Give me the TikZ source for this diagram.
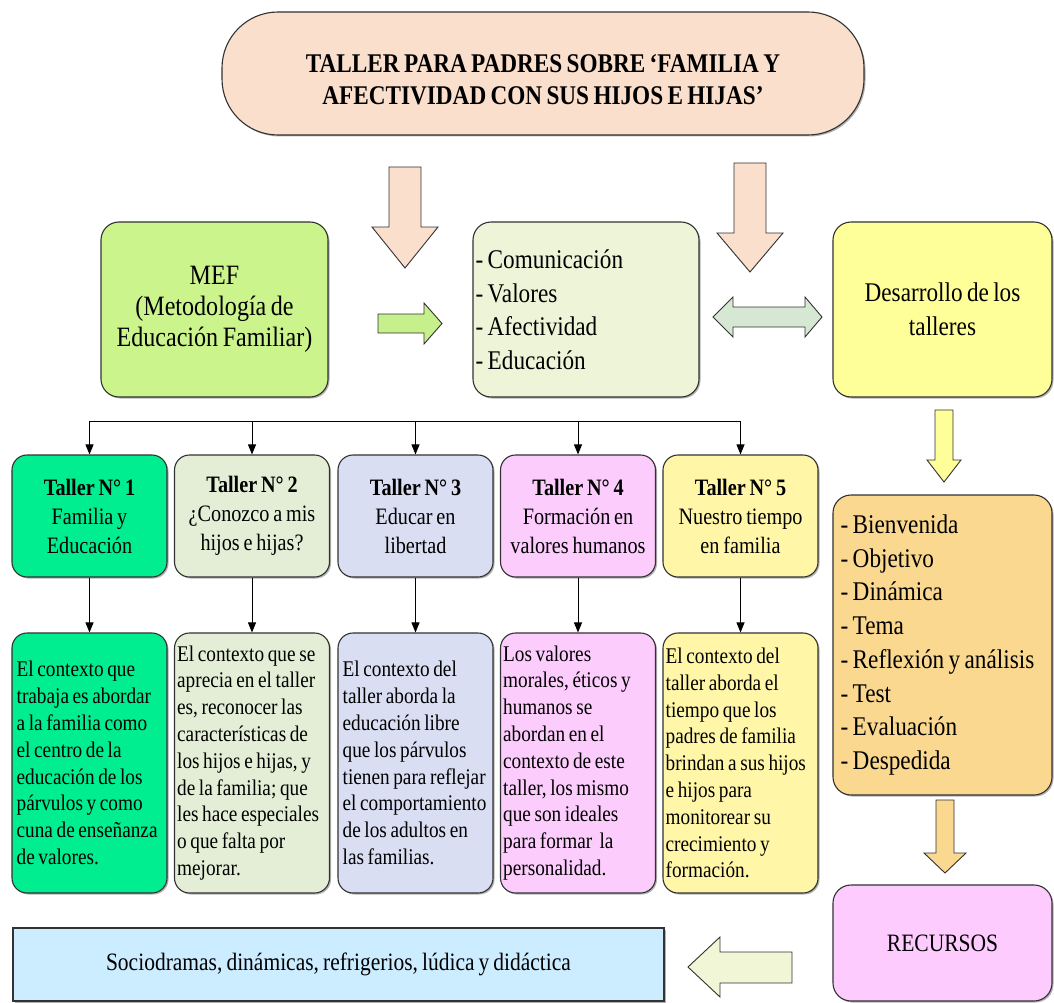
\documentclass[tikz,border=0pt]{standalone}
\usepackage{fontspec}
\setmainfont{Liberation Serif}[FakeStretch=0.86, WordSpace=0.75]
\usetikzlibrary{shadows,arrows.meta}
\definecolor{linec}{RGB}{50,50,50}
\definecolor{ctitle}{RGB}{250,223,205}
\definecolor{cmef}{RGB}{204,244,140}
\definecolor{clist}{RGB}{238,244,215}
\definecolor{cdes}{RGB}{255,255,153}
\definecolor{cta}{RGB}{0,238,144}
\definecolor{ctb}{RGB}{228,238,214}
\definecolor{ctc}{RGB}{218,222,242}
\definecolor{ctd}{RGB}{252,204,252}
\definecolor{cte}{RGB}{255,246,168}
\definecolor{corange}{RGB}{250,216,143}
\definecolor{crec}{RGB}{253,203,253}
\definecolor{csoc}{RGB}{204,236,255}
\definecolor{cleft}{RGB}{240,246,214}
\definecolor{cdbl}{RGB}{214,232,212}
\definecolor{cgreen}{RGB}{198,240,140}
\newcommand\blkdown[7]{% color, cx, top, headstart, tip, shaft half, head half
  \filldraw[blk, fill=#1] ({#2-#6},#3) -- ({#2+#6},#3) -- ({#2+#6},#4) -- ({#2+#7},#4) -- (#2,#5) -- ({#2-#7},#4) -- ({#2-#6},#4) -- cycle;}
\newcommand\blkright[7]{% color, cy, left, headstart, tip, shaft half, head half
  \filldraw[blk, fill=#1] (#3,{#2-#6}) -- (#4,{#2-#6}) -- (#4,{#2-#7}) -- (#5,#2) -- (#4,{#2+#7}) -- (#4,{#2+#6}) -- (#3,{#2+#6}) -- cycle;}
\tikzset{
  blk/.style={draw=linec, line width=0.9pt, line join=miter},
  box/.style={draw=linec, line width=1.1pt, rounded corners=18pt, inner sep=4pt,
     drop shadow={shadow xshift=1.5pt, shadow yshift=-1.5pt, opacity=.3, fill=black}},
  hdr/.style={box, minimum width=155pt, minimum height=122pt, rounded corners=15pt, align=center, font=\fontsize{23.5}{29}\selectfont},
  txt/.style={box, minimum width=155pt, minimum height=260pt, rounded corners=15pt},
  txtin/.style={anchor=west, inner sep=0pt, align=left, font=\fontsize{22.4}{26.8}\selectfont},
  conn/.style={draw=black, line width=0.9pt, -{Triangle[width=8pt,length=10pt]}}
}
\begin{document}
\begin{tikzpicture}[x=1pt,y=-1pt]
\useasboundingbox (0,0) rectangle (1054,1003);
\fill[white] (0,0) rectangle (1054,1003);

% title
\node[box, fill=ctitle, minimum width=642pt, minimum height=123pt, rounded corners=56pt] (title) at (543,73.5) {};
\node[align=center, inner sep=0pt, font=\fontsize{27}{32}\selectfont\bfseries] (titlet) at ([yshift=-6pt]title.center)
  {TALLER PARA PADRES SOBRE ‘FAMILIA Y\\AFECTIVIDAD CON SUS HIJOS E HIJAS’};

% peach down arrows
\blkdown{ctitle}{405}{167}{227}{268}{16}{33}
\blkdown{ctitle}{750}{163}{233}{272}{16}{33}

% row 2
\node[box, fill=cmef, minimum width=227pt, minimum height=175pt, align=center, font=\fontsize{28}{31}\selectfont] (mef) at (214.5,309.5)
  {MEF\\(Metodología de\\Educación Familiar)};
\node[box, fill=clist, minimum width=226pt, minimum height=175pt] (list) at (586,309.5) {};
\node[anchor=west, inner sep=0pt, align=left, font=\fontsize{27}{33.5}\selectfont] (listt) at ([xshift=3pt]list.west)
  {- Comunicación\\- Valores\\- Afectividad\\- Educación};
\node[box, fill=cdes, minimum width=219pt, minimum height=175pt, align=center, font=\fontsize{27}{34}\selectfont] (des) at (942.5,309.5)
  {Desarrollo de los\\talleres};

\blkright{cgreen}{323.5}{378}{424}{442}{9.5}{20.5}
% double arrow
\filldraw[blk, fill=cdbl] (713,317) -- (733,297) -- (733,307) -- (805,307) -- (805,297) -- (822,317)
  -- (805,337) -- (805,327) -- (733,327) -- (733,337) -- cycle;

% taller headers
\node[hdr, fill=cta] (t1) at (89.5,516) {\textbf{Taller N° 1}\\Familia y\\Educación};
\node[hdr, fill=ctb] (t2) at (252,516) {\textbf{Taller N° 2}\\¿Conozco a mis\\hijos e hijas?};
\node[hdr, fill=ctc] (t3) at (415.5,516) {\textbf{Taller N° 3}\\Educar en\\libertad};
\node[hdr, fill=ctd] (t4) at (578,516) {\textbf{Taller N° 4}\\Formación en\\valores humanos};
\node[hdr, fill=cte] (t5) at (740.5,516) {\textbf{Taller N° 5}\\Nuestro tiempo\\en familia};

% bus
\coordinate (bus) at (0,421);
\draw[draw=black, line width=0.9pt] (t1.north |- bus) -- (t5.north |- bus);
\foreach \t in {t1,t2,t3,t4,t5}{\draw[conn] (\t.north |- bus) -- (\t.north);}

% text boxes
\node[txt, fill=cta] (d1) at (89.5,763) {};
\node[txt, fill=ctb] (d2) at (252,763) {};
\node[txt, fill=ctc] (d3) at (415.5,763) {};
\node[txt, fill=ctd] (d4) at (578,763) {};
\node[txt, fill=cte] (d5) at (740.5,763) {};
\node[txtin] (d1t) at ([xshift=5pt]d1.west) {El contexto que\\trabaja es abordar\\a la familia como\\el centro de la\\educación de los\\párvulos y como\\cuna de enseñanza\\de valores.};
\node[txtin] (d2t) at ([xshift=3pt]d2.west) {El contexto que se\\aprecia en el taller\\es, reconocer las\\características de\\los hijos e hijas, y\\de la familia; que\\les hace especiales\\o que falta por\\mejorar.};
\node[txtin] (d3t) at ([xshift=5pt]d3.west) {El contexto del\\taller aborda la\\educación libre\\que los párvulos\\tienen para reflejar\\el comportamiento\\de los adultos en\\las familias.};
\node[txtin] (d4t) at ([xshift=3pt]d4.west) {Los valores\\morales, éticos y\\humanos se\\abordan en el\\contexto de este\\taller, los mismo\\que son ideales\\para formar~ la\\personalidad.};
\node[txtin] (d5t) at ([xshift=3pt]d5.west) {El contexto del\\taller aborda el\\tiempo que los\\padres de familia\\brindan a sus hijos\\e hijos para\\monitorear su\\crecimiento y\\formación.};
\foreach \i in {1,...,5}{\draw[conn] (t\i.south) -- (d\i.north);}

% right column
\blkdown{cdes}{944}{410}{460}{482}{9}{17}
\node[box, fill=corange, minimum width=219pt, minimum height=300pt] (steps) at (942.5,645) {};
\node[anchor=west, inner sep=0pt, align=left, font=\fontsize{27}{33.7}\selectfont] (stepst) at ([xshift=8pt]steps.west)
  {- Bienvenida\\- Objetivo\\- Dinámica\\- Tema\\- Reflexión y análisis\\- Test\\- Evaluación\\- Despedida};
\blkdown{corange}{945}{800}{853}{873}{9}{21}
\node[box, fill=crec, minimum width=219pt, minimum height=116pt, align=center,
  font=\fontsize{25}{30}\selectfont] (rec) at (942.5,943) {RECURSOS};

% bottom
\filldraw[blk, fill=cleft] (688,967) -- (720,937) -- (720,952) -- (792,952) -- (792,983) -- (720,983) -- (720,997) -- cycle;
\node[box, rounded corners=0pt, fill=csoc, minimum width=651pt, minimum height=73pt, align=center,
  font=\fontsize{25}{28}\selectfont] (soc) at (338.5,964.5)
  {Sociodramas, dinámicas, refrigerios, lúdica y didáctica};
\end{tikzpicture}
\end{document}
